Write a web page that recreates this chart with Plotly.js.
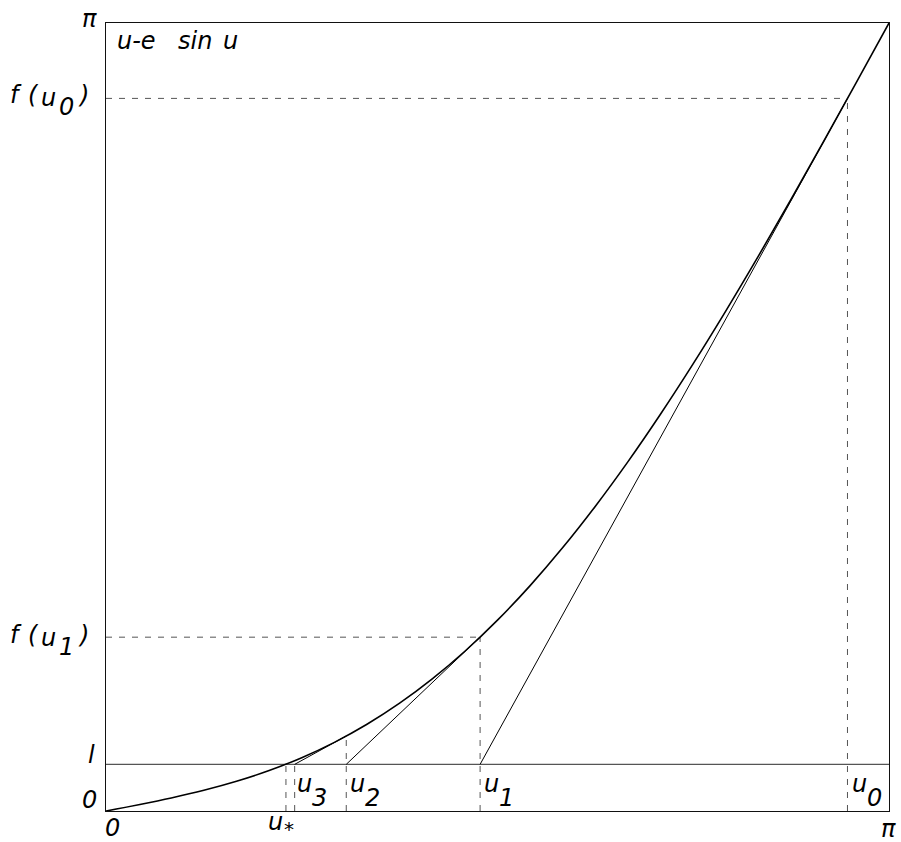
<!DOCTYPE html>
<html>
<head>
<meta charset="utf-8">
<script src="https://cdn.plot.ly/plotly-3.0.1.min.js"></script>
<style>
  html, body { margin: 0; padding: 0; background: #fff; }
  #chart { width: 901px; height: 842px; }
</style>
</head>
<body>
<div id="chart"></div>
<script>
// Eccentric anomaly u against u - e sin u (e about 0.81), with Newton steps toward l
var PI = 3.14159;

// sampled curve f(u) = u - e sin u
var uGrid = [0, 0.13090, 0.26180, 0.39270, 0.52360, 0.65450, 0.78540, 0.91630,
  1.04720, 1.17810, 1.30900, 1.43990, 1.57080, 1.70170, 1.83260, 1.96350,
  2.09440, 2.22529, 2.35619, 2.48709, 2.61799, 2.74889, 2.87979, 3.01069, 3.14159];
var fGrid = [0, 0.02517, 0.05216, 0.08273, 0.11860, 0.16140, 0.21264, 0.27369,
  0.34572, 0.42976, 0.52660, 0.63683, 0.76080, 0.89863, 1.05020, 1.21516,
  1.39292, 1.58268, 1.78343, 1.99399, 2.21299, 2.43892, 2.67015, 2.90496, 3.14159];

// mean anomaly level l and the iterates
var lLevel = 0.186;
var iterU = [2.975, 1.501, 0.964, 0.757];   // u0, u1, u2, u3
var iterF = [2.841, 0.693, 0.299, 0.201];   // f(u0) .. f(u3)
var uStar = 0.722;

// tangent segments: from (u_{n+1}, l) up to (u_n, f(u_n))
var tanX = [], tanY = [];
for (var i = 0; i < iterU.length - 1; i++) {
  tanX.push(iterU[i + 1], iterU[i], null);
  tanY.push(lLevel, iterF[i], null);
}

// dashed guides
var dashX = [], dashY = [];
for (var j = 0; j < 2; j++) {           // horizontal guides to f(u0), f(u1)
  dashX.push(0, iterU[j], null);
  dashY.push(iterF[j], iterF[j], null);
}
for (var k = 0; k < iterU.length; k++) { // verticals from the axis to the curve
  dashX.push(iterU[k], iterU[k], null);
  dashY.push(0, iterF[k], null);
}
dashX.push(uStar, uStar, null);
dashY.push(0, lLevel, null);

var traces = [
  { x: dashX, y: dashY, mode: 'lines', hoverinfo: 'skip',
    line: { color: '#555', width: 1, dash: '6px,7px' } },
  { x: [0, PI], y: [lLevel, lLevel], mode: 'lines', hoverinfo: 'skip',
    line: { color: '#555', width: 1.2 } },
  { x: tanX, y: tanY, mode: 'lines', hoverinfo: 'skip',
    line: { color: '#000', width: 1 } },
  { x: uGrid, y: fGrid, mode: 'lines', hoverinfo: 'skip',
    line: { color: '#000', width: 1.6, shape: 'spline', smoothing: 1 } }
];

// text placement in pixel coordinates of the page
var M = { l: 106, r: 12, t: 23, b: 31 };
var W = 901 - M.l - M.r, H = 842 - M.t - M.b;
var FONT = { family: 'DejaVu Sans', size: 24, color: '#000', style: 'italic' };

function lab(text, px, py, xa, size) {
  var f = Object.assign({}, FONT);
  if (size) f.size = size;
  return {
    text: text, xref: 'paper', yref: 'paper',
    x: (px - M.l) / W, y: 1 - (py - M.t) / H,
    xanchor: xa || 'left', yanchor: 'middle',
    showarrow: false, font: f, borderpad: 0
  };
}

// f(u_n) label set glyph by glyph, with wide spacing and a lowered index
function fLabel(idx, cy) {
  return [
    lab('f', 9, cy, 'left'),
    lab('(', 27, cy, 'left'),
    lab('u', 40, cy + 3, 'left'),
    lab(idx, 58, cy + 12, 'left'),
    lab(')', 77, cy, 'left')
  ];
}

var annotations = [
  lab('u-e', 116, 41, 'left'),
  lab('sin', 177, 41, 'left'),
  lab('u', 222, 41, 'left'),
  lab('π', 98, 19, 'right')
].concat(fLabel('0', 95), fLabel('1', 635), [
  lab('l', 96, 755, 'right'),
  lab('0', 98, 800, 'right'),
  lab('0', 104, 828, 'left'),
  lab('u', 267, 822, 'left'), lab('*', 283, 829, 'left', 20),
  lab('u', 296, 784, 'left'), lab('3', 311, 798, 'left'),
  lab('u', 349, 784, 'left'), lab('2', 364, 798, 'left'),
  lab('u', 483, 784, 'left'), lab('1', 498, 798, 'left'),
  lab('u', 851, 784, 'left'), lab('0', 866, 798, 'left'),
  lab('π', 897, 829, 'right')
]);

var axisCommon = {
  range: [0, PI], showgrid: false, zeroline: false, showticklabels: false,
  ticks: '', showline: true, mirror: true, linecolor: '#111', linewidth: 1,
  fixedrange: true
};

var layout = {
  width: 901, height: 842,
  margin: M,
  paper_bgcolor: '#fff', plot_bgcolor: '#fff',
  showlegend: false,
  xaxis: Object.assign({}, axisCommon),
  yaxis: Object.assign({}, axisCommon),
  annotations: annotations
};

Plotly.newPlot('chart', traces, layout, { staticPlot: true, displayModeBar: false });
</script>
</body>
</html>
